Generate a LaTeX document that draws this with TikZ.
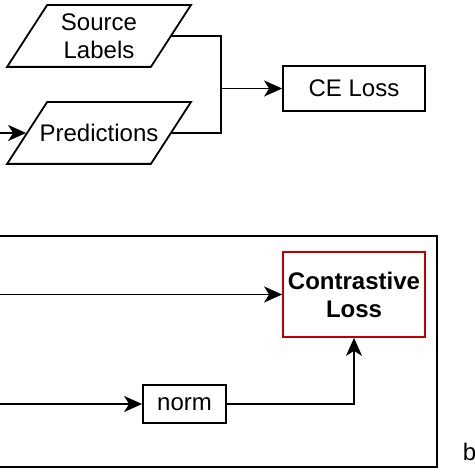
\documentclass[tikz,border=0pt]{standalone}
\usepackage{fontspec}
\setmainfont{Liberation Sans}
\usetikzlibrary{arrows.meta, positioning}

% parallelogram frame round a data node
\newcommand{\dataframe}[1]{%
    \draw ([xshift=10pt]#1.north west) -- ([xshift=10pt]#1.north east)
        -- ([xshift=-10pt]#1.south east) -- ([xshift=-10pt]#1.south west) -- cycle;}

\begin{document}
\begin{tikzpicture}[
    x=0.5pt, y=-0.5pt,
    data/.style={rectangle, minimum width=71pt, minimum height=30pt, inner sep=0pt, align=center},
    block/.style={rectangle, draw, inner sep=0pt, align=center},
    arrow/.style={-{Stealth[length=9pt, width=8pt, inset=2.5pt]}},
    every node/.append style={font=\fontsize{12}{14}\selectfont},
    line width=0.9pt
]
    \useasboundingbox (0,0) rectangle (474,474);

    % Top part
    \node[data] (src) at (99,36) {Source\\Labels};
    \node[data] (pred) at (99,133) {Predictions};
    \dataframe{src}
    \dataframe{pred}
    \node[block, minimum width=71pt, minimum height=22.5pt] (ce) at (354,88.5) {CE Loss};
    \coordinate (join) at (221,88.5);
    \coordinate (predin) at (0,133);

    \draw[arrow] (predin) -- ([xshift=-0.5pt]pred.west);
    \draw (src.east) -| (join) |- (pred.east);
    \draw[arrow] (join) -- (ce);

    % Bottom part
    \draw (-5,236) rectangle (437,467);
    \node[block, draw=red!75!black, minimum width=71pt, minimum height=42.5pt, font=\fontsize{12}{14}\selectfont\bfseries] (closs) at (354,294.5) {Contrastive\\Loss};
    \node[block, minimum width=41.5pt, minimum height=19pt] (norm) at (184.5,404) {norm};
    \coordinate (cin) at (0,294.5);
    \coordinate (nin) at (0,404);

    \draw[arrow] (cin) -- (closs);
    \draw[arrow] (nin) -- (norm);
    \draw[arrow] (norm) -| (closs);

    \node[anchor=west, inner sep=0pt] (lbl) at (462,452) {b};
\end{tikzpicture}
\end{document}
